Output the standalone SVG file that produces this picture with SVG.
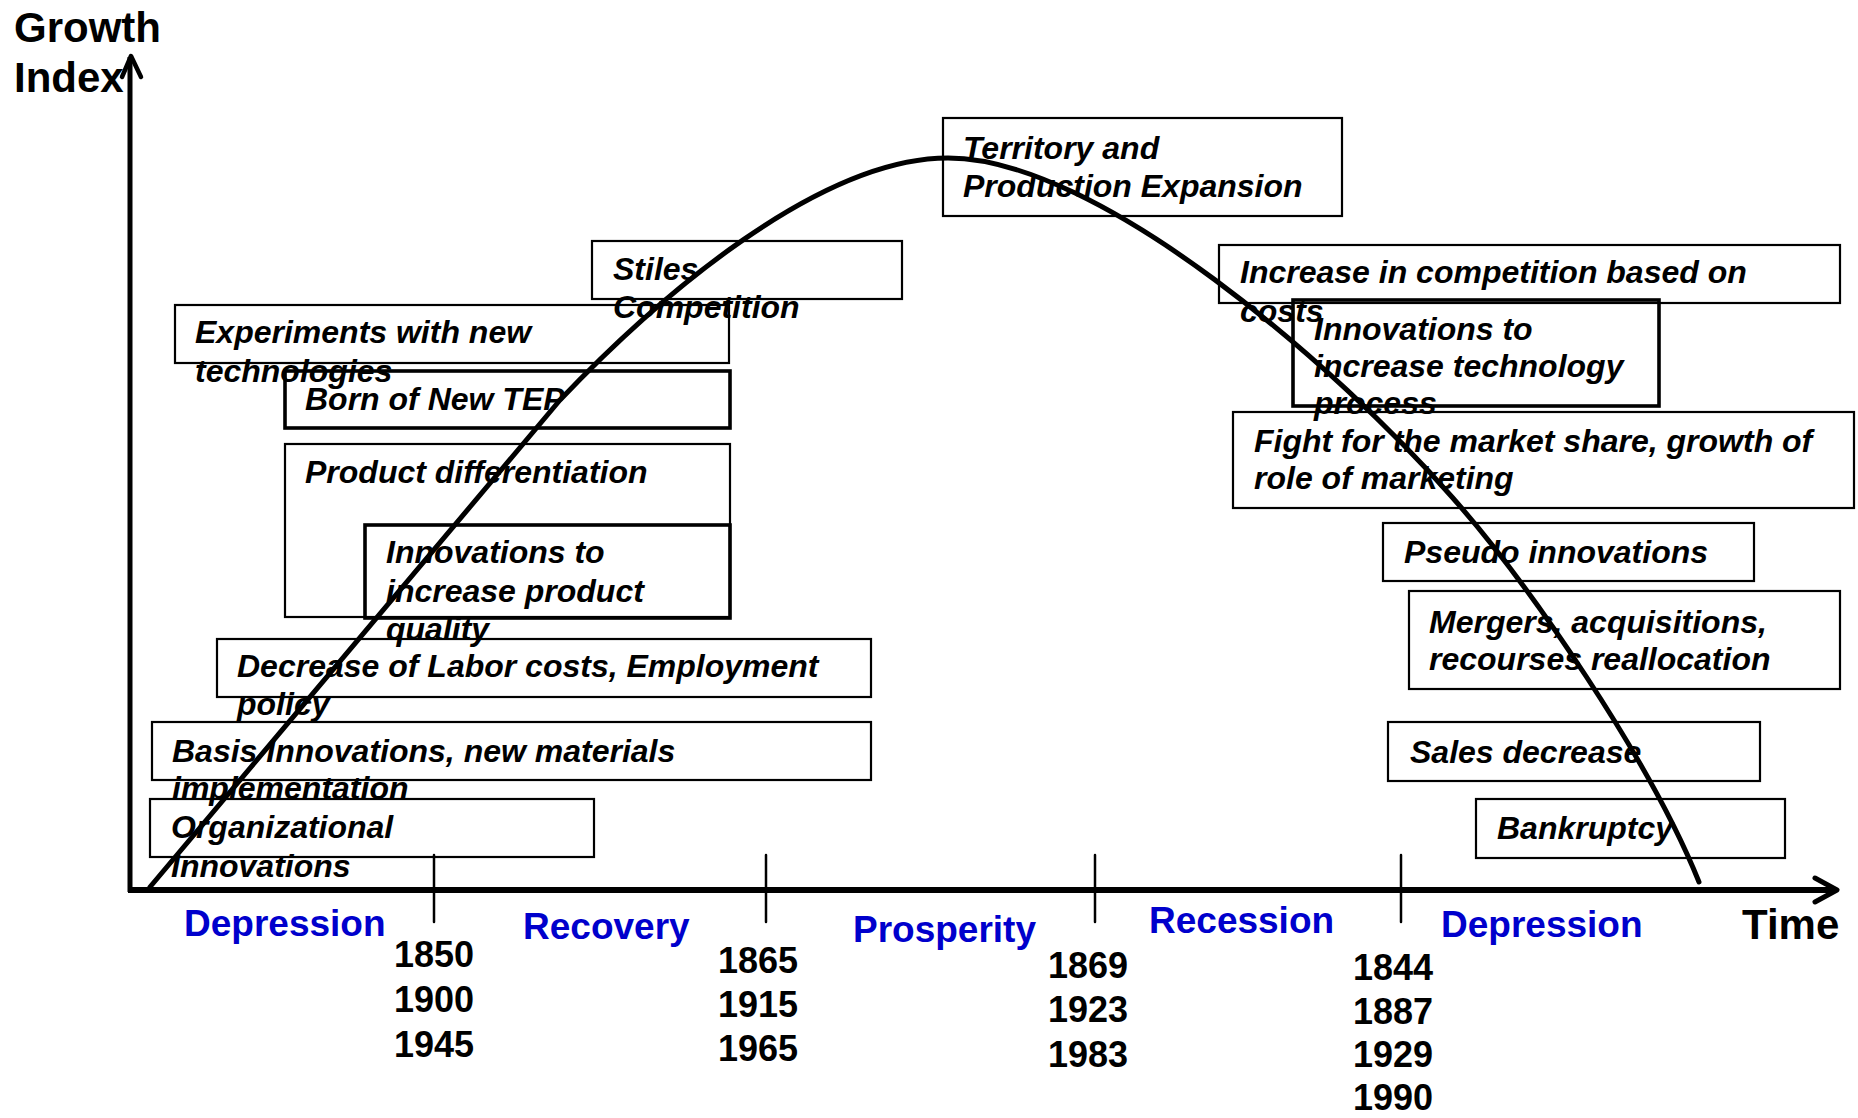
<svg xmlns="http://www.w3.org/2000/svg" width="1858" height="1118" viewBox="0 0 1858 1118">
<style>
.box{fill:none;stroke:#000;stroke-width:2.2}
.thick{fill:none;stroke:#000;stroke-width:3.6}
.t{font-family:"Liberation Sans",Arial,sans-serif;font-weight:bold;font-style:italic;font-size:32px;fill:#000}
.ax{font-family:"Liberation Sans",Arial,sans-serif;font-weight:bold;font-size:42px;fill:#000}
.ph{font-family:"Liberation Sans",Arial,sans-serif;font-weight:bold;font-size:37px;fill:#0000CC}
.yr{font-family:"Liberation Sans",Arial,sans-serif;font-weight:bold;font-size:36px;fill:#000;text-anchor:middle}
.tick{stroke:#000;stroke-width:2.5}
</style>
<rect width="1858" height="1118" fill="#fff"/>
<g id="node-territory"><rect class="box" x="943" y="118" width="399" height="98"/><text class="t" x="963" y="159">Territory and</text><text class="t" x="963" y="197">Production Expansion</text></g>
<g id="node-stiles"><rect class="box" x="592" y="241" width="310" height="58"/><text class="t" x="613" y="280">Stiles</text><text class="t" x="613" y="318">Competition</text></g>
<g id="node-experiments"><rect class="box" x="175" y="305" width="554" height="58"/><text class="t" x="195" y="343">Experiments with new</text><text class="t" x="195" y="382">technologies</text></g>
<g id="node-born"><rect class="thick" x="285" y="371" width="445" height="57"/><text class="t" x="305" y="410">Born of New TEP</text></g>
<g id="node-product"><rect class="box" x="285" y="444" width="445" height="173"/><text class="t" x="305" y="483">Product differentiation</text></g>
<g id="node-quality"><rect class="thick" x="365" y="525" width="365" height="93"/><text class="t" x="386" y="563">Innovations to</text><text class="t" x="386" y="602">increase product</text><text class="t" x="386" y="640">quality</text></g>
<g id="node-labor"><rect class="box" x="217" y="639" width="654" height="58"/><text class="t" x="237" y="677">Decrease of Labor costs, Employment</text><text class="t" x="237" y="715">policy</text></g>
<g id="node-basis"><rect class="box" x="152" y="722" width="719" height="58"/><text class="t" x="172" y="762">Basis Innovations, new materials</text><text class="t" x="172" y="799">implementation</text></g>
<g id="node-org"><rect class="box" x="150" y="799" width="444" height="58"/><text class="t" x="171" y="838">Organizational</text><text class="t" x="171" y="877">Innovations</text></g>
<g id="node-costs"><rect class="box" x="1219" y="245" width="621" height="58"/><text class="t" x="1240" y="283">Increase in competition based on</text><text class="t" x="1240" y="322">costs</text></g>
<g id="node-tech"><rect class="thick" x="1293" y="300" width="366" height="106"/><text class="t" x="1314" y="340">Innovations to</text><text class="t" x="1314" y="377">increase technology</text><text class="t" x="1314" y="414">process</text></g>
<g id="node-fight"><rect class="box" x="1233" y="412" width="621" height="96"/><text class="t" x="1254" y="452">Fight for the market share, growth of</text><text class="t" x="1254" y="489">role of marketing</text></g>
<g id="node-pseudo"><rect class="box" x="1383" y="523" width="371" height="58"/><text class="t" x="1404" y="563">Pseudo innovations</text></g>
<g id="node-mergers"><rect class="box" x="1409" y="591" width="431" height="98"/><text class="t" x="1429" y="633">Mergers, acquisitions,</text><text class="t" x="1429" y="670">recourses reallocation</text></g>
<g id="node-sales"><rect class="box" x="1388" y="722" width="372" height="59"/><text class="t" x="1410" y="763">Sales decrease</text></g>
<g id="node-bankruptcy"><rect class="box" x="1476" y="799" width="309" height="59"/><text class="t" x="1497" y="839">Bankruptcy</text></g>
<g id="connectors" fill="none" stroke="#000" stroke-linecap="round" stroke-linejoin="round">
<line class="tick" x1="434" y1="855" x2="434" y2="922"/>
<line class="tick" x1="766" y1="855" x2="766" y2="922"/>
<line class="tick" x1="1095" y1="855" x2="1095" y2="922"/>
<line class="tick" x1="1401" y1="855" x2="1401" y2="922"/>
<path d="M130,892 L130,57" stroke-width="5" stroke-linecap="butt"/>
<path d="M122,77 L131,56 L141,77" stroke-width="4.5"/>
<path d="M128,890 L1834,890" stroke-width="6" stroke-linecap="butt"/>
<path d="M1815,878 L1837,890 L1815,902" stroke-width="5"/>
<path d="M150,887 C290,720 430,555 560,400 C660,295 820,158 948,158 C1100,158 1340,370 1452,497 C1530,585 1650,760 1699,882" stroke-width="5"/>
</g>
<g id="labels">
<text class="ax" x="14" y="42">Growth</text>
<text class="ax" x="14" y="92">Index</text>
<text class="ax" x="1742" y="939">Time</text>
<text class="ph" x="184" y="936">Depression</text>
<text class="ph" x="523" y="939">Recovery</text>
<text class="ph" x="853" y="942">Prosperity</text>
<text class="ph" x="1149" y="933">Recession</text>
<text class="ph" x="1441" y="937">Depression</text>
<text class="yr" x="434" y="967">1850</text>
<text class="yr" x="434" y="1012">1900</text>
<text class="yr" x="434" y="1057">1945</text>
<text class="yr" x="758" y="973">1865</text>
<text class="yr" x="758" y="1017">1915</text>
<text class="yr" x="758" y="1061">1965</text>
<text class="yr" x="1088" y="978">1869</text>
<text class="yr" x="1088" y="1022">1923</text>
<text class="yr" x="1088" y="1067">1983</text>
<text class="yr" x="1393" y="980">1844</text>
<text class="yr" x="1393" y="1024">1887</text>
<text class="yr" x="1393" y="1067">1929</text>
<text class="yr" x="1393" y="1110">1990</text>
</g>
</svg>
